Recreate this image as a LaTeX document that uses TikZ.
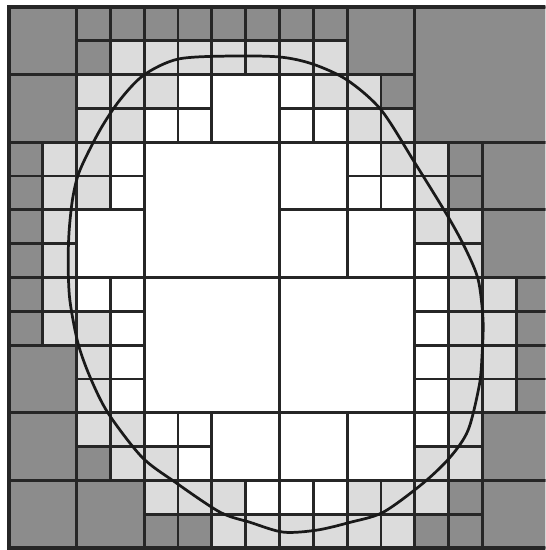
\documentclass[tikz,border=0pt]{standalone}
\usepackage{tikz}
\definecolor{cellgray}{RGB}{140,140,140}
\definecolor{celllight}{RGB}{220,220,220}

\begin{document}
\begin{tikzpicture}[
    x=1cm, y=-1cm,
    cell/.style={draw=black!85, line width=2.4pt},
    darkcell/.style={cell, fill=cellgray},
    lightcell/.style={cell, fill=celllight},
    whitecell/.style={cell, fill=white},
    contour/.style={draw=black!90, line width=2.3pt}
]
\clip (-0.266,-0.207) rectangle (15.86,16.059);

% leaves of the quadtree: column/row/size
\foreach \c/\r/\s in {0/0/2, 0/2/2, 2/0/1, 3/0/1, 2/1/1, 4/0/1, 5/0/1, 6/0/1, 7/0/1,
    0/4/1, 0/5/1, 0/6/1, 0/7/1, 8/0/1, 9/0/1, 10/0/2, 11/2/1, 12/0/4,
    13/4/1, 13/5/1, 14/4/2, 14/6/2, 0/8/1, 0/9/1, 0/10/2, 0/12/2, 0/14/2,
    2/13/1, 2/14/2, 4/15/1, 5/15/1, 15/8/1, 15/9/1, 15/10/1, 15/11/1,
    14/12/2, 14/14/2, 13/14/1, 12/15/1, 13/15/1}
  \draw[darkcell] (\c,\r) rectangle ++(\s,\s);

\foreach \c/\r/\s in {3/1/1, 4/1/1, 5/1/1, 6/1/1, 7/1/1, 2/2/1, 3/2/1, 2/3/1, 3/3/1,
    4/2/1, 1/4/1, 1/5/1, 2/4/1, 2/5/1, 1/6/1, 1/7/1, 8/1/1, 9/1/1, 9/2/1,
    10/2/1, 10/3/1, 11/3/1, 11/4/1, 12/4/1, 12/5/1, 12/6/1, 13/6/1, 13/7/1,
    1/8/1, 1/9/1, 2/9/1, 2/10/1, 2/11/1, 2/12/1, 3/12/1, 3/13/1, 4/13/1,
    4/14/1, 5/14/1, 6/14/1, 6/15/1, 7/15/1, 13/8/1, 13/9/1, 14/8/1, 14/9/1,
    13/10/1, 13/11/1, 14/10/1, 14/11/1, 8/15/1, 9/15/1, 10/14/1, 11/14/1,
    10/15/1, 11/15/1, 13/12/1, 12/13/1, 13/13/1, 12/14/1}
  \draw[lightcell] (\c,\r) rectangle ++(\s,\s);

\foreach \c/\r/\s in {5/2/1, 4/3/1, 5/3/1, 6/2/2, 3/4/1, 3/5/1, 2/6/2, 4/4/4,
    8/2/1, 8/3/1, 9/3/1, 8/4/2, 10/4/1, 10/5/1, 11/5/1, 8/6/2, 10/6/2, 12/7/1,
    2/8/1, 3/8/1, 3/9/1, 3/10/1, 3/11/1, 4/8/4, 4/12/1, 5/12/1, 5/13/1,
    6/12/2, 7/14/1, 8/8/4, 12/8/1, 12/9/1, 12/10/1, 12/11/1, 8/12/2, 10/12/2,
    8/14/1, 9/14/1, 12/12/1}
  \draw[whitecell] (\c,\r) rectangle ++(\s,\s);

% outer frame
\draw[black!85, line width=3pt] (0,0) rectangle (16,16);

% region boundary
\draw[contour] plot[smooth cycle, tension=0.5] coordinates {
    (6.54,1.45) (8.02,1.48) (8.99,1.69) (10.0,2.16) (11.01,3.05)
    (12.01,4.62) (12.99,6.21) (13.52,7.19) (13.88,8.08) (14.02,9.26)
    (13.99,10.30) (13.91,11.18) (13.58,12.51) (13.05,13.31) (12.25,14.08)
    (11.07,14.94) (10.09,15.24) (9.11,15.47) (8.11,15.53) (7.13,15.24)
    (6.24,14.94) (4.91,14.05) (3.93,13.31) (2.93,12.01) (2.40,10.95)
    (2.04,9.94) (1.80,8.67) (1.75,7.57) (1.78,6.60) (1.89,5.62)
    (2.10,4.82) (2.69,3.64) (3.28,2.75) (3.99,2.01) (5.00,1.54)};
\end{tikzpicture}
\end{document}
